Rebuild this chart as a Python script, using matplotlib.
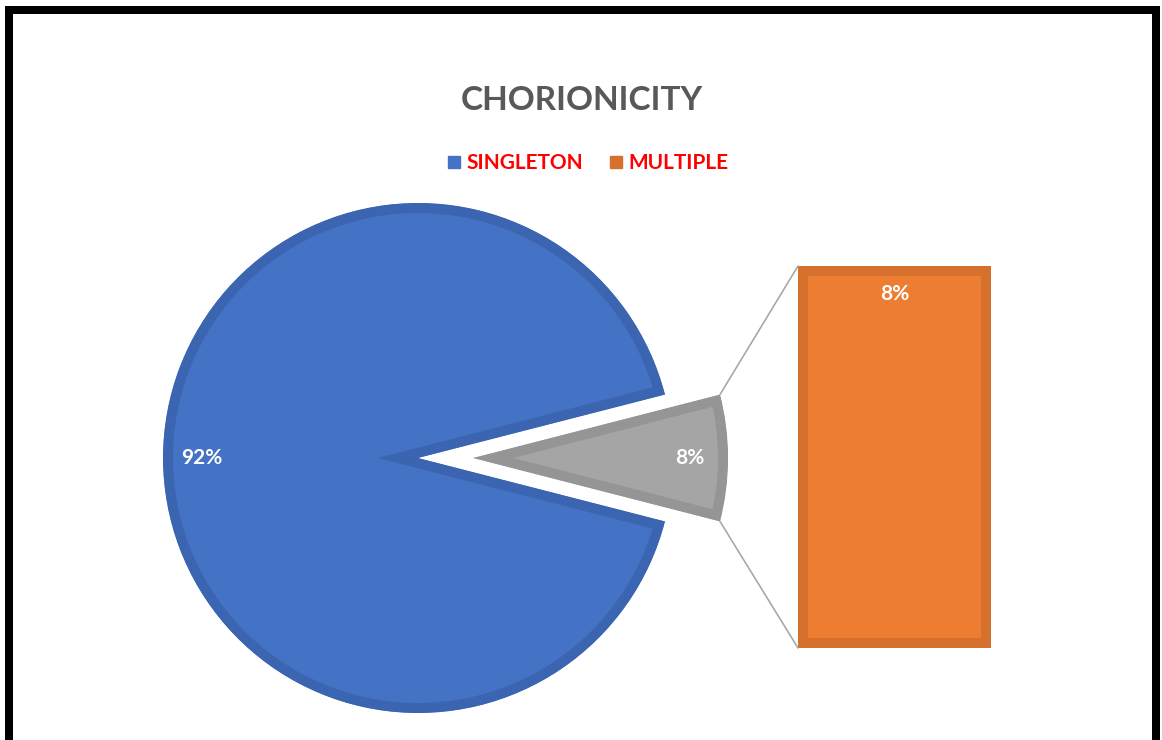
import matplotlib
matplotlib.use("Agg")
import matplotlib.pyplot as plt
from matplotlib.patches import Rectangle, ConnectionPatch
from matplotlib.lines import Line2D
import numpy as np

# Data
categories = ["SINGLETON", "MULTIPLE"]
shares = [92, 8]            # percent of pregnancies
bar_share = [8]             # breakdown of the secondary slice
title = "CHORIONICITY"

# Styling
W, H, DPI = 1162, 740, 100
fills = ["#4472C4", "#A5A5A5"]
edges = ["#3B65B1", "#959595"]
bar_fill, bar_edge = "#ED7D31", "#D6712D"
legend_fill = ["#4472C4", "#D6712D"]
font = "Lato"

fig = plt.figure(figsize=(W / DPI, H / DPI), dpi=DPI)
ax = fig.add_axes([0, 0, 1, 1])

px = 72 / DPI  # points per pixel
inner_lw = 20 * px  # stroke is clipped to the shape -> 10 px visible border

wedges, texts, autotexts = ax.pie(
    shares,
    colors=fills,
    startangle=14.4,
    counterclock=True,
    explode=[0, 55],
    radius=255,
    center=(418, 282),
    autopct="%1.0f%%",
    pctdistance=0.85,
    textprops=dict(color="white", fontsize=15, fontweight="bold", family=font),
    wedgeprops=dict(linewidth=inner_lw, joinstyle="miter"),
)
for w, ec in zip(wedges, edges):
    w.set_edgecolor(ec)
    w.set_clip_on(True)
    w.set_clip_path(w)
for t in autotexts:
    t.set_va("center")
    t.set_ha("center")

ax.set_xlim(0, W)
ax.set_ylim(0, H)
ax.set_aspect("equal")
ax.axis("off")

# Secondary bar for the split-out slice
bax = fig.add_axes([798 / W, (H - 648) / H, 193 / W, 382 / H])
bars = bax.bar([0], bar_share, width=1.0, color=bar_fill, edgecolor=bar_edge,
               linewidth=inner_lw, joinstyle="miter")
for b in bars:
    b.set_clip_path(b)
bax.set_xlim(-0.5, 0.5)
bax.set_ylim(0, sum(bar_share))
bax.axis("off")
bax.annotate(f"{bar_share[0]}%", xy=(0, sum(bar_share)), xytext=(0, -28),
             textcoords="offset pixels", ha="center", va="center",
             color="white", fontsize=15, fontweight="bold", family=font)

# Connector lines from the split slice to the bar
g = wedges[1]
gc = np.array(g.center)
for theta, ybar in [(g.theta2, sum(bar_share)), (g.theta1, 0)]:
    t = np.deg2rad(theta)
    p = gc + g.r * np.array([np.cos(t), np.sin(t)])
    con = ConnectionPatch(xyA=tuple(p), coordsA=ax.transData,
                          xyB=(-0.5, ybar), coordsB=bax.transData,
                          color="#A6A6A6", linewidth=1.6 * px)
    fig.add_artist(con)

# Title
fig.text(582 / W, (H - 110) / H, title, ha="center", va="baseline",
         fontsize=24, fontweight="bold", color="#595959", family=font)

# Legend
handles = [Line2D([], [], linestyle="none", marker="s", markersize=12 * px,
                  markerfacecolor=c, markeredgecolor=c) for c in legend_fill]
fig.legend(handles, categories, loc="center", ncol=2,
           bbox_to_anchor=(588 / W, (H - 163) / H), frameon=False,
           prop=dict(family=font, weight="bold", size=15),
           labelcolor="#FF0000", handlelength=0.6, handletextpad=0.3,
           columnspacing=1.25, borderpad=0, borderaxespad=0)

# Outer frame
fig.add_artist(Rectangle((8.5 / W, (H - 742) / H), (1156 - 8.5) / W, (742 - 9.5) / H,
                         transform=fig.transFigure, fill=False,
                         edgecolor="black", linewidth=8 * px, joinstyle="miter"))

fig.savefig("out.png", dpi=DPI)
